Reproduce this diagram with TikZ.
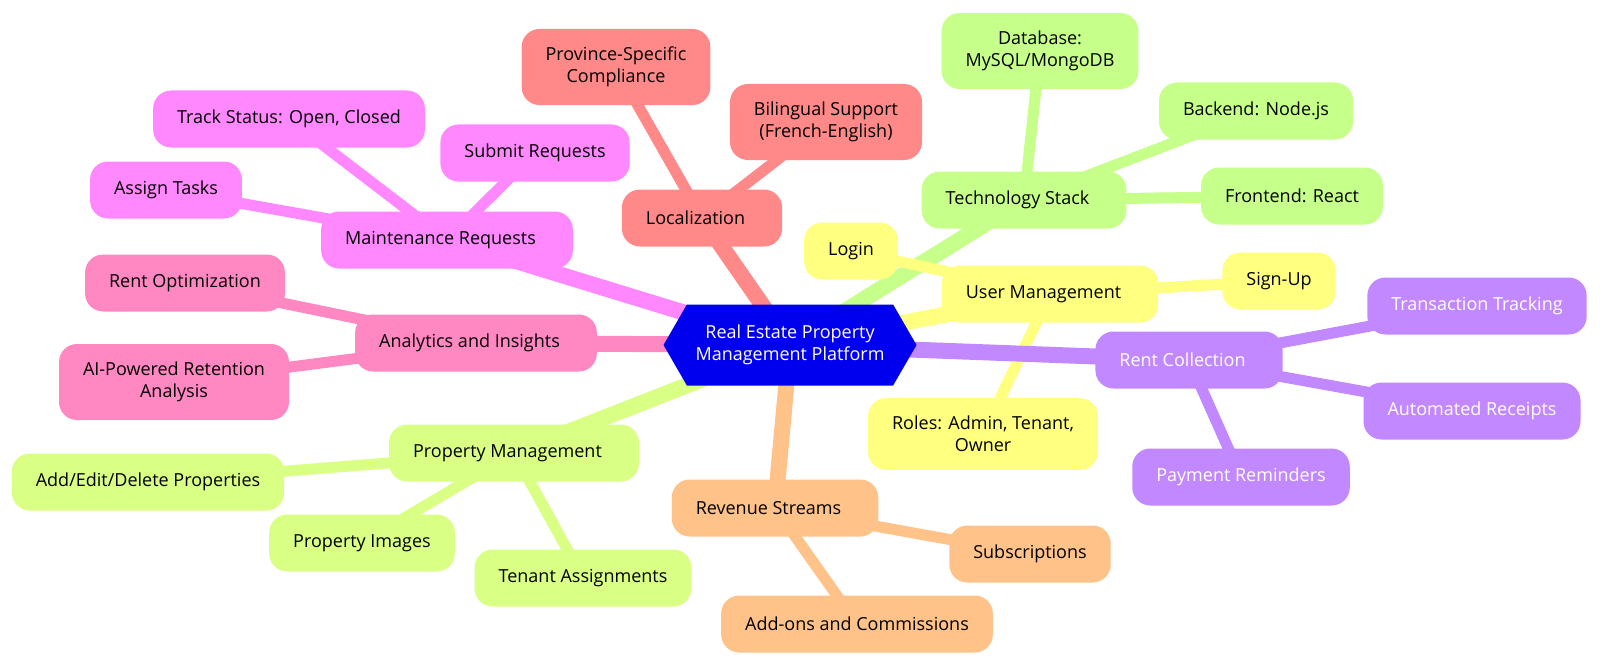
\documentclass[tikz,border=0pt]{standalone}
\usepackage{fontspec}
\setmainfont{Open Sans}
\usetikzlibrary{shapes.symbols,backgrounds}
\definecolor{rootblue}{RGB}{0,0,238}
\definecolor{loccol}{RGB}{255,136,136}
\definecolor{techcol}{RGB}{198,255,138}
\definecolor{usercol}{RGB}{255,255,128}
\definecolor{rentcol}{RGB}{194,136,255}
\definecolor{revcol}{RGB}{255,194,136}
\definecolor{propcol}{RGB}{218,255,133}
\definecolor{anacol}{RGB}{255,136,194}
\definecolor{maintcol}{RGB}{255,136,255}

\begin{document}
\begin{tikzpicture}[x=1pt,y=-1pt,
    topic/.style={rounded corners=18pt, inner xsep=24pt, inner ysep=18pt, minimum height=57pt,
      align=center, font=\fontsize{18}{22}\selectfont},
    branch/.style={topic, execute at end node={\kern13pt}},
    trunk/.style={line width=16pt},
    twig/.style={line width=11pt}]
  \useasboundingbox (0,0) rectangle (1600,666);
  \node[signal, signal to=east and west, signal pointer angle=120, fill=rootblue, text=white,
    minimum width=253pt, minimum height=81pt, inner sep=0pt, align=center,
    font=\fontsize{18}{22}\selectfont] (root) at (790,345) {Real Estate Property\\Management Platform};
  % localization
  \node[branch, fill=loccol] (loc) at (702,218) {Localization};
  \node[topic, fill=loccol] (prov) at (616,67) {Province-Specific\\Compliance};
  \node[topic, fill=loccol] (bil) at (826,122) {Bilingual Support\\(French-English)};
  % technology
  \node[branch, fill=techcol] (tech) at (1024,200) {Technology Stack};
  \node[topic, fill=techcol] (db) at (1040,51) {Database:\\MySQL/MongoDB};
  \node[topic, fill=techcol] (back) at (1256,111) {Backend: Node.js};
  \node[topic, fill=techcol] (front) at (1292,196) {Frontend: React};
  % users
  \node[branch, fill=usercol] (user) at (1050,294) {User Management};
  \node[topic, fill=usercol] (login) at (851,251) {Login};
  \node[topic, fill=usercol] (sign) at (1279,281) {Sign-Up};
  \node[topic, fill=usercol] (roles) at (983,434) {Roles: Admin, Tenant,\\Owner};
  % rent
  \node[branch, fill=rentcol, text=white] (rent) at (1189,360) {Rent Collection};
  \node[topic, fill=rentcol, text=white] (trans) at (1477,306) {Transaction Tracking};
  \node[topic, fill=rentcol, text=white] (auto) at (1472,411) {Automated Receipts};
  \node[topic, fill=rentcol, text=white] (pay) at (1241,477) {Payment Reminders};
  % revenue
  \node[branch, fill=revcol] (rev) at (775,508) {Revenue Streams};
  \node[topic, fill=revcol] (subs) at (1030,554) {Subscriptions};
  \node[topic, fill=revcol] (addon) at (857,624) {Add-ons and Commissions};
  % property
  \node[branch, fill=propcol] (prop) at (514,453) {Property Management};
  \node[topic, fill=propcol] (addp) at (148,482) {Add/Edit/Delete Properties};
  \node[topic, fill=propcol] (img) at (362,543) {Property Images};
  \node[topic, fill=propcol] (ten) at (583,578) {Tenant Assignments};
  % analytics
  \node[branch, fill=anacol] (ana) at (476,343) {Analytics and Insights};
  \node[topic, fill=anacol] (ropt) at (185,283) {Rent Optimization};
  \node[topic, fill=anacol] (ai) at (174,382) {AI-Powered Retention\\Analysis};
  % maintenance
  \node[branch, fill=maintcol] (maint) at (447,240) {Maintenance Requests};
  \node[topic, fill=maintcol] (track) at (289,119) {Track Status: Open, Closed};
  \node[topic, fill=maintcol] (submit) at (535,153) {Submit Requests};
  \node[topic, fill=maintcol] (assign) at (166,190) {Assign Tasks};
  \begin{pgfonlayer}{background}
    \draw[trunk, loccol] (root.center) -- (loc.center);
    \draw[twig, loccol] (loc.center) -- (prov.center);
    \draw[twig, loccol] (loc.center) -- (bil.center);
    \draw[trunk, techcol] (root.center) -- (tech.center);
    \draw[twig, techcol] (tech.center) -- (db.center);
    \draw[twig, techcol] (tech.center) -- (back.center);
    \draw[twig, techcol] (tech.center) -- (front.center);
    \draw[trunk, usercol] (root.center) -- (user.center);
    \draw[twig, usercol] (user.center) -- (login.center);
    \draw[twig, usercol] (user.center) -- (sign.center);
    \draw[twig, usercol] (user.center) -- (roles.center);
    \draw[trunk, rentcol] (root.center) -- (rent.center);
    \draw[twig, rentcol] (rent.center) -- (trans.center);
    \draw[twig, rentcol] (rent.center) -- (auto.center);
    \draw[twig, rentcol] (rent.center) -- (pay.center);
    \draw[trunk, revcol] (root.center) -- (rev.center);
    \draw[twig, revcol] (rev.center) -- (subs.center);
    \draw[twig, revcol] (rev.center) -- (addon.center);
    \draw[trunk, propcol] (root.center) -- (prop.center);
    \draw[twig, propcol] (prop.center) -- (addp.center);
    \draw[twig, propcol] (prop.center) -- (img.center);
    \draw[twig, propcol] (prop.center) -- (ten.center);
    \draw[trunk, anacol] (root.center) -- (ana.center);
    \draw[twig, anacol] (ana.center) -- (ropt.center);
    \draw[twig, anacol] (ana.center) -- (ai.center);
    \draw[trunk, maintcol] (root.center) -- (maint.center);
    \draw[twig, maintcol] (maint.center) -- (track.center);
    \draw[twig, maintcol] (maint.center) -- (submit.center);
    \draw[twig, maintcol] (maint.center) -- (assign.center);
  \end{pgfonlayer}
\end{tikzpicture}
\end{document}
